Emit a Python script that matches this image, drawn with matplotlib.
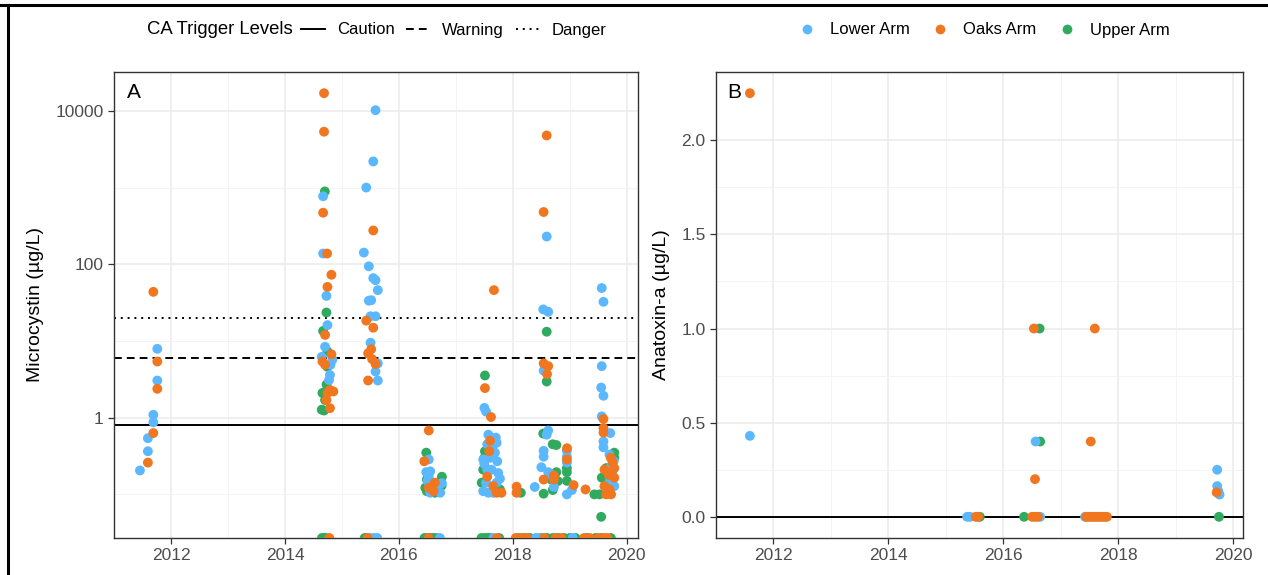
import numpy as np
import matplotlib
matplotlib.use('Agg')
import matplotlib.pyplot as plt
from matplotlib.lines import Line2D

plt.rcParams['font.family'] = ['Liberation Sans', 'DejaVu Sans']

# colours for the three arms
col_lower = '#5BB8FF'
col_oaks = '#F0761F'
col_upper = '#2FAA5E'

# ---------------- Panel A: microcystin (ug/L), decimal year ----------------
# 0 = non-detect (drawn on the bottom edge like ggplot's -Inf)
lower_mc_year = [2011.455, 2011.595, 2011.595, 2011.69, 2011.69, 2011.76, 2011.76,
                 2014.67, 2014.67, 2014.728, 2014.746, 2014.704, 2014.646, 2014.833, 2014.80, 2014.79, 2014.774,
                 2015.59, 2015.55, 2015.427, 2015.385, 2015.472, 2015.55, 2015.59, 2015.63, 2015.472, 2015.514,
                 2015.502, 2015.59, 2015.502, 2015.63, 2015.59, 2015.63,
                 2016.524, 2016.48, 2016.55, 2016.524, 2016.667, 2016.755, 2016.55, 2016.725, 2016.60, 2016.50,
                 2017.50, 2017.53, 2017.57, 2017.70, 2017.715, 2017.55, 2017.686, 2017.48, 2017.726, 2017.55,
                 2017.628, 2017.743, 2017.773, 2017.53, 2017.715, 2017.48, 2017.57, 2017.656, 2017.60, 2017.64, 2017.50,
                 2018.594, 2018.533, 2018.62, 2018.54, 2018.62, 2018.594, 2018.54, 2018.54, 2018.948, 2018.948,
                 2018.50, 2018.62, 2018.676, 2018.72, 2018.384, 2018.948, 2019.036, 2018.95,
                 2019.56, 2019.59, 2019.56, 2019.55, 2019.59, 2019.56, 2019.71, 2019.59, 2019.59, 2019.695,
                 2019.77, 2019.724, 2019.78, 2019.75, 2019.70,
                 2015.50, 2015.56, 2015.62, 2016.72, 2017.66, 2018.40, 2018.46, 2019.05]
lower_mc = [0.205, 0.54, 0.365, 1.09, 0.87, 7.9, 3.05,
            770, 138, 38.7, 16.1, 8.4, 6.2, 5.7, 4.9, 3.6, 3.1,
            10200, 2190, 1000, 142, 94, 66, 62, 46, 33.5, 34,
            21, 21, 9.5, 5.1, 4.0, 3.05,
            0.285, 0.195, 0.2, 0.17, 0.135, 0.14, 0.105, 0.105, 0.125, 0.15,
            1.34, 1.2, 0.6, 0.55, 0.47, 0.45, 0.35, 0.285, 0.27, 0.21,
            0.21, 0.19, 0.16, 0.142, 0.142, 0.11, 0.105, 0.105, 0.3, 0.4, 0.25,
            230, 25.8, 24, 4.1, 0.68, 0.6, 0.37, 0.31, 0.37, 0.31,
            0.226, 0.195, 0.18, 0.125, 0.125, 0.1, 0.114, 0.26,
            49, 32.4, 4.7, 2.47, 1.93, 1.04, 0.63, 0.49, 0.41, 0.33,
            0.27, 0.23, 0.128, 0.2, 0.15,
            0, 0, 0, 0, 0, 0, 0, 0]

oaks_mc_year = [2011.69, 2011.76, 2011.76, 2011.69, 2011.595,
                2014.686, 2014.686, 2014.67, 2014.74, 2014.816, 2014.746, 2014.704, 2014.816, 2014.658,
                2014.704, 2014.746, 2014.85, 2014.79, 2014.728, 2014.79,
                2015.55, 2015.427, 2015.55, 2015.514, 2015.46, 2015.53, 2015.59, 2015.46,
                2016.524, 2016.445, 2016.63, 2016.524, 2016.608,
                2017.668, 2017.51, 2017.616, 2017.586, 2017.55, 2017.656, 2017.715, 2017.80, 2017.60,
                2018.065, 2018.065, 2018.594, 2018.54, 2018.54, 2018.62, 2018.60, 2018.948, 2018.72,
                2018.54, 2018.72, 2019.066, 2018.95,
                2019.275, 2019.59, 2019.59, 2019.59, 2019.607, 2019.78, 2019.682, 2019.78, 2019.607,
                2019.695, 2019.637, 2019.724, 2019.75, 2019.72,
                2014.78, 2015.45, 2016.52, 2017.72, 2018.05, 2018.15, 2018.25, 2018.55, 2018.75, 2018.85,
                2019.25, 2019.35, 2019.50, 2019.60, 2019.66]
oaks_mc = [43.7, 5.4, 2.38, 0.63, 0.26,
           17000, 5350, 470, 138, 73, 50.7, 12, 6.7, 5.4,
           4.9, 2.1, 2.2, 2.3, 1.7, 1.33,
           276, 18.4, 14.9, 7.8, 6.9, 5.8, 5.0, 3.05,
           0.68, 0.27, 0.142, 0.122, 0.11,
           46, 2.43, 1.02, 0.365, 0.17, 0.128, 0.105, 0.105, 0.5,
           0.126, 0.105, 4780, 480, 5.1, 4.7, 3.7, 0.285, 0.176,
           0.156, 0.156, 0.132, 0.4,
           0.116, 0.96, 0.73, 0.64, 0.21, 0.22, 0.18, 0.165, 0.128,
           0.116, 0.1, 0.1, 0.26, 0.3,
           0, 0, 0, 0, 0, 0, 0, 0, 0, 0,
           0, 0, 0, 0, 0]

upper_mc_year = [2014.70, 2014.728, 2014.67, 2014.746, 2014.746, 2014.73, 2014.746, 2014.658, 2014.704,
                 2014.646, 2014.686,
                 2016.48, 2016.49, 2016.755, 2016.725, 2016.58, 2016.463, 2016.695, 2016.49, 2016.63, 2016.75,
                 2017.51, 2017.51, 2017.48, 2017.453, 2017.773, 2017.50,
                 2018.14, 2018.594, 2018.594, 2018.533, 2018.70, 2018.763, 2018.948, 2018.948, 2018.763,
                 2018.676, 2018.79, 2018.948, 2018.70, 2018.54,
                 2019.78, 2019.637, 2019.56, 2019.43, 2019.52, 2019.55, 2019.78,
                 2014.65, 2014.69, 2014.72, 2015.40, 2015.43, 2016.45, 2016.50, 2016.55, 2016.60, 2016.66,
                 2017.45, 2017.50, 2017.55, 2017.60, 2017.76, 2018.10, 2018.20, 2018.30, 2018.50, 2018.60,
                 2018.70, 2018.80, 2018.90, 2019.00, 2019.10, 2019.30, 2019.45, 2019.55, 2019.72]
upper_mc = [890, 23.5, 13.5, 7.3, 4.6, 2.7, 2.3, 2.1, 1.7,
            1.27, 1.24,
            0.35, 0.156, 0.17, 0.149, 0.142, 0.122, 0.122, 0.11, 0.105, 0.13,
            3.55, 0.365, 0.21, 0.142, 0.116, 0.3,
            0.105, 13.2, 2.96, 0.62, 0.45, 0.44, 0.22, 0.195, 0.195,
            0.156, 0.149, 0.15, 0.114, 0.102,
            0.3, 0.22, 0.165, 0.1, 0.1, 0.051, 0.35,
            0, 0, 0, 0, 0, 0, 0, 0, 0, 0,
            0, 0, 0, 0, 0, 0, 0, 0, 0, 0,
            0, 0, 0, 0, 0, 0, 0, 0, 0]

# CA trigger levels for microcystin
trigger_names = ['Caution', 'Warning', 'Danger']
trigger_mc = [0.8, 6, 20]
trigger_dashes = [None, (4, 2.6), (1, 2.5)]   # solid, dashed, dotted

# ---------------- Panel B: anatoxin-a (ug/L) ----------------
lower_at_year = [2011.59, 2015.37, 2015.42, 2016.56, 2016.64, 2017.42, 2019.72, 2019.72, 2019.74, 2019.76]
lower_at = [0.43, 0, 0, 0.4, 0, 0, 0.25, 0.163, 0.136, 0.118]
oaks_at_year = [2011.59, 2015.52, 2015.56, 2016.53, 2016.55, 2016.50, 2016.55, 2016.60, 2017.52, 2017.59,
                2017.44, 2017.48, 2017.52, 2017.56, 2017.60, 2017.64, 2017.68, 2017.72, 2017.76, 2017.80, 2019.71]
oaks_at = [2.25, 0, 0, 1.0, 0.2, 0, 0, 0, 0.4, 1.0,
           0, 0, 0, 0, 0, 0, 0, 0, 0, 0, 0.13]
upper_at_year = [2015.59, 2016.36, 2016.63, 2016.64, 2019.75]
upper_at = [0, 0, 1.0, 0.4, 0]
trigger_at = 0

years_ticks = [2012, 2014, 2016, 2018, 2020]


def expand(lo, hi, f=0.05):
    d = (hi - lo) * f
    return lo - d, hi + d


def trig_line(dash, **kw):
    ln = Line2D([], [], color='black', linewidth=1.4, **kw)
    if dash is not None:
        ln.set_dashes(dash)
    return ln


def style_axes(ax):
    ax.set_facecolor('white')
    for s in ax.spines.values():
        s.set_color('#333333')
        s.set_linewidth(1.0)
    ax.grid(which='major', color='#EBEBEB', linewidth=1.1, zorder=0)
    ax.grid(which='minor', color='#F2F2F2', linewidth=0.6, zorder=0)
    ax.set_axisbelow(True)
    ax.tick_params(which='major', length=4, width=0.9, color='#333333', labelcolor='#4D4D4D', labelsize=12.5)
    ax.tick_params(which='minor', length=0)
    ax.set_xticks(years_ticks)
    ax.set_xticks([2011, 2013, 2015, 2017, 2019], minor=True)


fig = plt.figure(figsize=(12.68, 5.75), dpi=100)
axA = fig.add_axes([114 / 1268, 37 / 575, 524 / 1268, 466 / 575])
axB = fig.add_axes([716 / 1268, 37 / 575, 527 / 1268, 466 / 575])

###### Panel A
axA.set_yscale('log')
all_mc = np.array(lower_mc + oaks_mc + upper_mc, dtype=float)
all_mc_year = lower_mc_year + oaks_mc_year + upper_mc_year
lo, hi = expand(np.log10(all_mc[all_mc > 0].min()), np.log10(all_mc.max()))
ylo_A = 10 ** lo
axA.set_ylim(ylo_A, 10 ** hi)
axA.set_xlim(*expand(min(all_mc_year), max(all_mc_year)))
style_axes(axA)
axA.set_yticks([1, 100, 10000])
axA.set_yticklabels(['1', '100', '10000'])
axA.set_yticks([0.1, 10, 1000], minor=True)
axA.yaxis.set_minor_formatter(plt.NullFormatter())

for lvl, dash in zip(trigger_mc, trigger_dashes):
    ln = axA.axhline(lvl, color='black', linewidth=1.4, zorder=2)
    if dash is not None:
        ln.set_dashes(dash)

for yrs, vals, c in [(upper_mc_year, upper_mc, col_upper),
                     (lower_mc_year, lower_mc, col_lower),
                     (oaks_mc_year, oaks_mc, col_oaks)]:
    v = np.array(vals, dtype=float)
    v[v <= 0] = ylo_A  # non-detects sit on the panel edge
    axA.scatter(yrs, v, s=50, color=c, edgecolors='none', zorder=3)

axA.set_ylabel('Microcystin (\u00b5g/L)', fontsize=14, labelpad=8)
axA.text(0.025, 0.957, 'A', transform=axA.transAxes, fontsize=15, va='center', ha='left')

###### Panel B
all_at = lower_at + oaks_at + upper_at
all_at_year = lower_at_year + oaks_at_year + upper_at_year
axB.set_ylim(*expand(min(all_at), max(all_at)))
axB.set_xlim(*expand(min(all_at_year), max(all_at_year)))
style_axes(axB)
axB.set_yticks([0, 0.5, 1.0, 1.5, 2.0])
axB.set_yticklabels(['0.0', '0.5', '1.0', '1.5', '2.0'])
axB.set_yticks([0.25, 0.75, 1.25, 1.75], minor=True)
axB.yaxis.set_minor_formatter(plt.NullFormatter())

axB.axhline(trigger_at, color='black', linestyle='-', linewidth=1.4, zorder=2)
for yrs, vals, c in [(upper_at_year, upper_at, col_upper),
                     (lower_at_year, lower_at, col_lower),
                     (oaks_at_year, oaks_at, col_oaks)]:
    axB.scatter(yrs, vals, s=50, color=c, edgecolors='none', zorder=3)

axB.set_ylabel('Anatoxin-a (\u00b5g/L)', fontsize=14, labelpad=8)
axB.text(0.021, 0.957, 'B', transform=axB.transAxes, fontsize=15, va='center', ha='left')

###### legends
fig.text(147 / 1268, 1 - 30 / 575, 'CA Trigger Levels', fontsize=13.3, va='center', ha='left')
trig_handles = [trig_line(d) for d in trigger_dashes]
fig.legend(trig_handles, trigger_names, loc='center left', bbox_to_anchor=(301 / 1268, 1 - 30 / 575),
           ncol=3, frameon=False, fontsize=12, handlelength=1.45, handletextpad=0.7,
           columnspacing=0.7, borderaxespad=0, borderpad=0)

arm_handles = [Line2D([], [], marker='o', linestyle='none', markersize=7, markerfacecolor=c,
                      markeredgecolor='none') for c in [col_lower, col_oaks, col_upper]]
fig.legend(arm_handles, ['Lower Arm', 'Oaks Arm', 'Upper Arm'], loc='center',
           bbox_to_anchor=(984 / 1268, 1 - 30 / 575), ncol=3, frameon=False, fontsize=12,
           handlelength=1.0, handletextpad=0.9, columnspacing=1.3, borderaxespad=0, borderpad=0)

# frame lines of the original screenshot (top and left)
fig.add_artist(Line2D([0, 1], [1 - 5 / 575, 1 - 5 / 575], transform=fig.transFigure, color='black', linewidth=2.2))
fig.add_artist(Line2D([8 / 1268, 8 / 1268], [0, 1 - 5 / 575], transform=fig.transFigure, color='black', linewidth=2.2))

fig.savefig('out.png', dpi=100, facecolor='white')
